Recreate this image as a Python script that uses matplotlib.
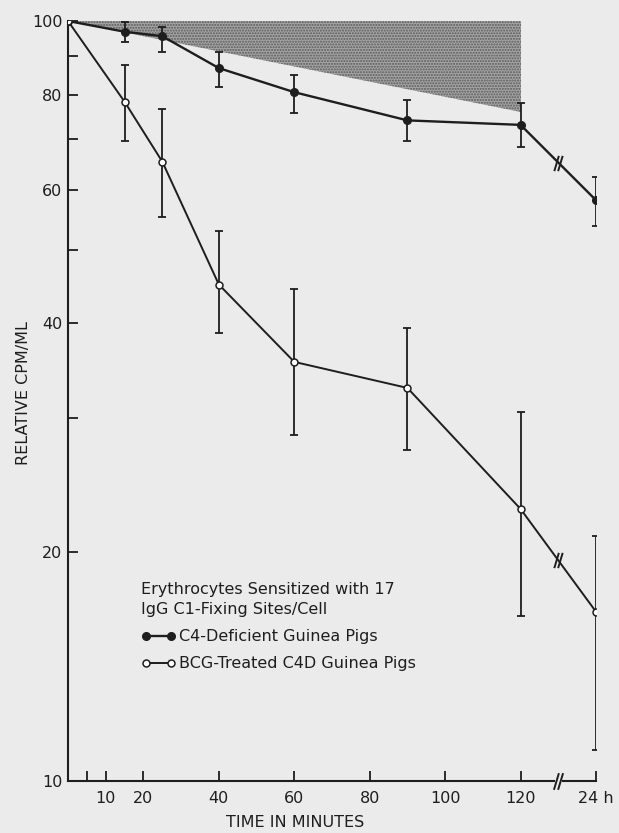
import numpy as np
import matplotlib.pyplot as plt
from matplotlib.path import Path

# time points (minutes); the last one is the 24 h sample, drawn past the axis break
times = [0, 15, 25, 40, 60, 90, 120, 140]

# C4-deficient guinea pigs (filled circles)
c4d = [100, 96.8, 95.5, 86.7, 80.6, 74.0, 73.0, 58.1]
c4d_hi = [100, 99.7, 98.1, 91.0, 85.0, 78.8, 78.0, 62.3]
c4d_lo = [100, 93.8, 91.0, 81.8, 75.6, 69.6, 68.3, 53.8]

# BCG-treated C4D guinea pigs (open circles)
bcg = [100, 78.3, 65.3, 45.0, 35.6, 32.9, 22.8, 16.7]
bcg_hi = [100, 87.5, 76.6, 53.0, 44.4, 39.5, 30.6, 21.0]
bcg_lo = [100, 69.6, 55.2, 38.8, 28.5, 27.3, 16.5, 11.0]

# stippled region
shade_t = [0, 120, 120]
shade_v = [100, 100, 76]

xticks = [5, 10, 20, 40, 60, 80, 100, 120, 140]
xticklabels = ['', '10', '20', '40', '60', '80', '100', '120', '24 h']
yticks = [10, 20, 40, 60, 80, 100]
yminor = [30, 50, 70, 90]
break_t = 130

ink = '#1e1e1e'
paper = '#ebebeb'

fig = plt.figure(figsize=(6.19, 8.33), dpi=100, facecolor=paper)
ax = fig.add_axes([68 / 619, 52 / 833, 528 / 619, 760 / 833])
ax.set_facecolor(paper)

ax.fill(shade_t, shade_v, facecolor='#a4a4a4', edgecolor='#5a5a5a',
        hatch='......', linewidth=0, zorder=1)

# lines
l1, = ax.plot(times, c4d, color=ink, lw=1.7, marker='o', ms=5.5,
              mfc=ink, mec=ink, zorder=4)
l2, = ax.plot(times, bcg, color=ink, lw=1.4, marker='o', ms=5,
              mfc='white', mec=ink, mew=1.1, zorder=4)

# error bars (no bar at t = 0)
for v, hi, lo in [(c4d, c4d_hi, c4d_lo), (bcg, bcg_hi, bcg_lo)]:
    v = np.array(v[1:])
    err = [v - np.array(lo[1:]), np.array(hi[1:]) - v]
    ax.errorbar(times[1:], v, yerr=err, fmt='none', ecolor=ink,
                elinewidth=1.3, capsize=3.2, capthick=1.3, zorder=3)

# break marks: two parallel slashes
brk = Path([(-0.55, -1), (0.05, 1), (-0.05, -1), (0.55, 1)],
           [Path.MOVETO, Path.LINETO, Path.MOVETO, Path.LINETO])
for v in (c4d, bcg):
    ym = np.sqrt(v[-2] * v[-1])
    ax.plot([break_t], [ym], marker=brk, ms=11, mew=1.4, color=ink,
            linestyle='none', zorder=5)

ax.set_yscale('log')
ax.set_xlim(0, 140)
ax.set_ylim(10, 100)

# x axis drawn by hand so it can be broken
ax.spines['bottom'].set_visible(False)
ax.spines['top'].set_visible(False)
ax.spines['right'].set_visible(False)
ax.spines['left'].set_linewidth(1.5)
ax.spines['left'].set_color(ink)
ax.plot([0, break_t - 1.2], [10, 10], color=ink, lw=1.5, clip_on=False, zorder=5)
ax.plot([break_t + 1.2, 140], [10, 10], color=ink, lw=1.5, clip_on=False, zorder=5)
ax.plot([break_t], [10], marker=brk, ms=12, mew=1.4, color=ink,
        linestyle='none', clip_on=False, zorder=6)

ax.set_xticks(xticks)
ax.set_xticklabels(xticklabels)
ax.set_yticks(yticks)
ax.set_yticklabels([str(t) for t in yticks])
ax.set_yticks(yminor, minor=True)
ax.yaxis.set_minor_formatter(plt.NullFormatter())
ax.tick_params(axis='both', which='both', direction='in', color=ink,
               width=1.3, labelsize=11.5, labelcolor=ink)
ax.tick_params(axis='x', length=7, pad=7)
ax.tick_params(axis='y', which='both', length=7, pad=4)

ax.set_xlabel('TIME IN MINUTES', fontsize=11.5, color=ink)
ax.xaxis.set_label_coords(0.43, -0.045)
ax.set_ylabel('RELATIVE CPM/ML', fontsize=11.5, color=ink)
ax.yaxis.set_label_coords(-0.07, 0.51)

leg = ax.legend([l1, l2], ['C4-Deficient Guinea Pigs', 'BCG-Treated C4D Guinea Pigs'],
                title='Erythrocytes Sensitized with 17\nIgG C1-Fixing Sites/Cell',
                loc='upper left', bbox_to_anchor=(0.138, 0.262), frameon=False,
                numpoints=2, handlelength=2.2, handletextpad=0.2,
                labelspacing=0.75, fontsize=11.5, title_fontsize=11.5,
                alignment='left', borderaxespad=0, borderpad=0)
for t in leg.get_texts():
    t.set_color(ink)
leg.get_title().set_color(ink)
leg.get_title().set_linespacing(1.45)

fig.savefig('out.png', dpi=100, facecolor=paper)
